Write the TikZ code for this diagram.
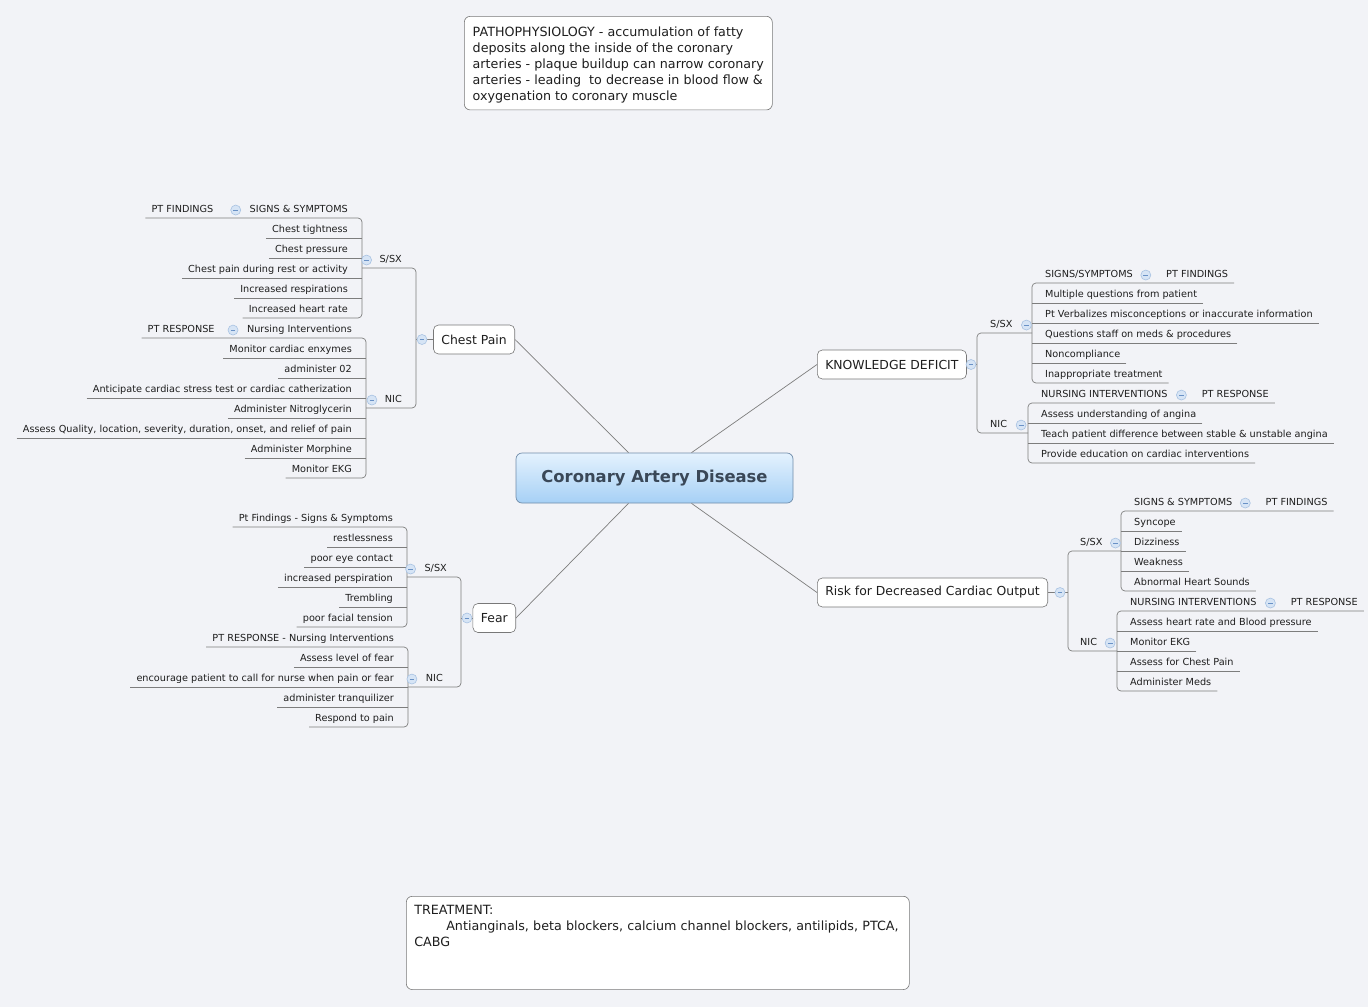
\documentclass[tikz,border=0pt]{standalone}
\usepackage{fontspec}
\setmainfont{DejaVu Sans}
\usetikzlibrary{positioning}
\definecolor{colBack}{RGB}{242,243,247}
\definecolor{colBranch}{RGB}{125,125,125}
\definecolor{colBox}{RGB}{120,120,120}
\definecolor{colText}{RGB}{30,30,30}
\definecolor{colCenterTop}{RGB}{228,242,254}
\definecolor{colCenterBot}{RGB}{166,208,245}
\definecolor{colCenterLine}{RGB}{112,140,170}
\definecolor{colCenterText}{RGB}{58,72,88}
\definecolor{colFold}{RGB}{214,228,245}
\definecolor{colFoldLine}{RGB}{168,194,226}
\definecolor{colFoldMinus}{RGB}{105,145,198}
\newcommand{\leaffont}{\fontsize{9.7}{11}\selectfont}
\newcommand{\notefont}{\fontsize{12.7}{16}\selectfont}

\begin{document}
\begin{tikzpicture}[x=1pt, y=-1pt,
    every node/.style={text=colText},
    branch/.style={draw=colBranch, line width=0.7pt, rounded corners=4pt},
    leaf/.style={font=\leaffont, inner xsep=6pt, inner ysep=3pt, text height=7pt, text depth=2.5pt},
    leafL/.style={leaf, anchor=south east},
    leafR/.style={leaf, anchor=south west},
    topic/.style={draw=colBox, fill=white, rounded corners=5pt, line width=0.6pt, font=\fontsize{12.4}{14}\selectfont, inner xsep=8pt, minimum height=29pt},
    central/.style={draw=colCenterLine, line width=0.7pt, rounded corners=6pt, top color=colCenterTop, bottom color=colCenterBot, minimum width=277pt, minimum height=50pt, font=\bfseries\fontsize{16.4}{18}\selectfont, text=colCenterText},
    note/.style={draw=colBox, fill=white, rounded corners=6pt, line width=0.6pt, anchor=north west, align=left, inner xsep=8pt, inner ysep=9pt, font=\notefont},
    fold/.style={circle, draw=colFoldLine, fill=colFold, minimum size=10pt, inner sep=0pt, line width=0.6pt,
        path picture={\draw[colFoldMinus, line width=0.8pt] ([xshift=2.6pt]path picture bounding box.west) -- ([xshift=-2.6pt]path picture bounding box.east);}}
]
    \fill[colBack] (0,0) rectangle (1368,1007);
    \useasboundingbox (0,0) rectangle (1368,1007);

    % central topic and the two notes
    \node[central] (cad) at (654.5,478) {Coronary Artery Disease};
    \node[note, minimum width=308pt, inner ysep=6.9pt] (patho) at (464,16) {\rule{0pt}{13.2pt}PATHOPHYSIOLOGY - accumulation of fatty\\deposits along the inside of the coronary\\arteries - plaque buildup can narrow coronary\\arteries - leading\ \ to decrease in blood flow \&\\oxygenation to coronary muscle};
    \node[note, text width=487pt, inner ysep=9pt] (treat) at (406,896) {TREATMENT:\\\hspace*{32pt}\mbox{Antianginals, beta blockers, calcium channel blockers, antilipids, PTCA,}\\CABG\rule[-34pt]{0pt}{34pt}};

    % ---- Chest Pain (left, top)
    \node[topic, anchor=east] (cp) at (515,339.5) {Chest Pain};
    \coordinate (cpJ) at (416,339.5);
    \coordinate (cpSj) at (362,268);
    \coordinate (cpNj) at (366,408);
    \node[leafL] (cpS) at (408,268) {S/SX};
    \node[leafL] (cpN) at (408,408) {NIC};

    \node[leafL] (cpS1) at (354,218) {SIGNS \& SYMPTOMS};
    \node[leafL, left=24pt of cpS1] (cpS1a) {PT FINDINGS};
    \node[leafL] (cpS2) at (354,238) {Chest tightness};
    \node[leafL] (cpS3) at (354,258) {Chest pressure};
    \node[leafL] (cpS4) at (354,278) {Chest pain during rest or activity};
    \node[leafL] (cpS5) at (354,298) {Increased respirations};
    \node[leafL] (cpS6) at (354,318) {Increased heart rate};

    \node[leafL] (cpN1) at (358,338) {Nursing Interventions};
    \node[leafL, left=20pt of cpN1] (cpN1a) {PT RESPONSE};
    \node[leafL] (cpN2) at (358,358) {Monitor cardiac enxymes};
    \node[leafL] (cpN3) at (358,378) {administer 02};
    \node[leafL] (cpN4) at (358,398) {Anticipate cardiac stress test or cardiac catherization};
    \node[leafL] (cpN5) at (358,418) {Administer Nitroglycerin};
    \node[leafL] (cpN6) at (358,438) {Assess Quality, location, severity, duration, onset, and relief of pain};
    \node[leafL] (cpN7) at (358,458) {Administer Morphine};
    \node[leafL] (cpN8) at (358,478) {Monitor EKG};

    \draw[branch] (cpSj) -| (cpJ) |- (cpNj);
    \draw[branch] (cpJ) -- (cp.west);
    \draw[branch] (cpS1a.south west) -| (cpSj) |- (cpS6.south west);
    \draw[branch] (cpS2.south west) -- (cpS2.south west -| cpSj)
        (cpS3.south west) -- (cpS3.south west -| cpSj)
        (cpS4.south west) -- (cpS4.south west -| cpSj)
        (cpS5.south west) -- (cpS5.south west -| cpSj);
    \draw[branch] (cpN1a.south west) -| (cpNj) |- (cpN8.south west);
    \draw[branch] (cpN2.south west) -- (cpN2.south west -| cpNj)
        (cpN3.south west) -- (cpN3.south west -| cpNj)
        (cpN4.south west) -- (cpN4.south west -| cpNj)
        (cpN5.south west) -- (cpN5.south west -| cpNj)
        (cpN6.south west) -- (cpN6.south west -| cpNj)
        (cpN7.south west) -- (cpN7.south west -| cpNj);

    % ---- Fear (left, bottom)
    \node[topic, anchor=east] (fear) at (516,618) {Fear};
    \coordinate (fJ) at (461,618);
    \coordinate (fSj) at (407,577);
    \coordinate (fNj) at (408,687);
    \node[leafL] (fS) at (453,577) {S/SX};
    \node[leafL] (fN) at (449,687) {NIC};

    \node[leafL] (fS1) at (399,527) {Pt Findings - Signs \& Symptoms};
    \node[leafL] (fS2) at (399,547) {restlessness};
    \node[leafL] (fS3) at (399,567) {poor eye contact};
    \node[leafL] (fS4) at (399,587) {increased perspiration};
    \node[leafL] (fS5) at (399,607) {Trembling};
    \node[leafL] (fS6) at (399,627) {poor facial tension};

    \node[leafL] (fN1) at (400,647) {PT RESPONSE - Nursing Interventions};
    \node[leafL] (fN2) at (400,667) {Assess level of fear};
    \node[leafL] (fN3) at (400,687) {encourage patient to call for nurse when pain or fear};
    \node[leafL] (fN4) at (400,707) {administer tranquilizer};
    \node[leafL] (fN5) at (400,727) {Respond to pain};

    \draw[branch] (fSj) -| (fJ) |- (fNj);
    \draw[branch] (fJ) -- (fear.west);
    \draw[branch] (fS1.south west) -| (fSj) |- (fS6.south west);
    \draw[branch] (fS2.south west) -- (fS2.south west -| fSj)
        (fS3.south west) -- (fS3.south west -| fSj)
        (fS4.south west) -- (fS4.south west -| fSj)
        (fS5.south west) -- (fS5.south west -| fSj);
    \draw[branch] (fN1.south west) -| (fNj) |- (fN5.south west);
    \draw[branch] (fN2.south west) -- (fN2.south west -| fNj)
        (fN3.south west) -- (fN3.south west -| fNj)
        (fN4.south west) -- (fN4.south west -| fNj);

    % ---- KNOWLEDGE DEFICIT (right, top)
    \node[topic, anchor=west] (kd) at (817,364.5) {KNOWLEDGE DEFICIT};
    \coordinate (kdJ) at (977,364.5);
    \coordinate (kdSj) at (1032,333);
    \coordinate (kdNj) at (1028,433);
    \node[leafR] (kdS) at (984,333) {S/SX};
    \node[leafR] (kdN) at (984,433) {NIC};

    \node[leafR] (kdS1) at (1039,283) {SIGNS/SYMPTOMS};
    \node[leafR, right=21pt of kdS1] (kdS1a) {PT FINDINGS};
    \node[leafR] (kdS2) at (1039,303) {Multiple questions from patient};
    \node[leafR] (kdS3) at (1039,323) {Pt Verbalizes misconceptions or inaccurate information};
    \node[leafR] (kdS4) at (1039,343) {Questions staff on meds \& procedures};
    \node[leafR] (kdS5) at (1039,363) {Noncompliance};
    \node[leafR] (kdS6) at (1039,383) {Inappropriate treatment};

    \node[leafR] (kdN1) at (1035,403) {NURSING INTERVENTIONS};
    \node[leafR, right=22pt of kdN1] (kdN1a) {PT RESPONSE};
    \node[leafR] (kdN2) at (1035,423) {Assess understanding of angina};
    \node[leafR] (kdN3) at (1035,443) {Teach patient difference between stable \& unstable angina};
    \node[leafR] (kdN4) at (1035,463) {Provide education on cardiac interventions};

    \draw[branch] (kdSj) -| (kdJ) |- (kdNj);
    \draw[branch] (kdJ) -- (kd.east);
    \draw[branch] (kdS1a.south east) -| (kdSj) |- (kdS6.south east);
    \draw[branch] (kdS2.south east) -- (kdS2.south east -| kdSj)
        (kdS3.south east) -- (kdS3.south east -| kdSj)
        (kdS4.south east) -- (kdS4.south east -| kdSj)
        (kdS5.south east) -- (kdS5.south east -| kdSj);
    \draw[branch] (kdN1a.south east) -| (kdNj) |- (kdN4.south east);
    \draw[branch] (kdN2.south east) -- (kdN2.south east -| kdNj)
        (kdN3.south east) -- (kdN3.south east -| kdNj);

    % ---- Risk for Decreased Cardiac Output (right, bottom)
    \node[topic, anchor=west] (risk) at (817,592.5) {Risk for Decreased Cardiac Output};
    \coordinate (rJ) at (1068,592.5);
    \coordinate (rSj) at (1121,551);
    \coordinate (rNj) at (1117,651);
    \node[leafR] (rS) at (1074,551) {S/SX};
    \node[leafR] (rN) at (1074,651) {NIC};

    \node[leafR] (rS1) at (1128,511) {SIGNS \& SYMPTOMS};
    \node[leafR, right=21pt of rS1] (rS1a) {PT FINDINGS};
    \node[leafR] (rS2) at (1128,531) {Syncope};
    \node[leafR] (rS3) at (1128,551) {Dizziness};
    \node[leafR] (rS4) at (1128,571) {Weakness};
    \node[leafR] (rS5) at (1128,591) {Abnormal Heart Sounds};

    \node[leafR] (rN1) at (1124,611) {NURSING INTERVENTIONS};
    \node[leafR, right=22pt of rN1] (rN1a) {PT RESPONSE};
    \node[leafR] (rN2) at (1124,631) {Assess heart rate and Blood pressure};
    \node[leafR] (rN3) at (1124,651) {Monitor EKG};
    \node[leafR] (rN4) at (1124,671) {Assess for Chest Pain};
    \node[leafR] (rN5) at (1124,691) {Administer Meds};

    \draw[branch] (rSj) -| (rJ) |- (rNj);
    \draw[branch] (rJ) -- (risk.east);
    \draw[branch] (rS1a.south east) -| (rSj) |- (rS5.south east);
    \draw[branch] (rS2.south east) -- (rS2.south east -| rSj)
        (rS3.south east) -- (rS3.south east -| rSj)
        (rS4.south east) -- (rS4.south east -| rSj);
    \draw[branch] (rN1a.south east) -| (rNj) |- (rN5.south east);
    \draw[branch] (rN2.south east) -- (rN2.south east -| rNj)
        (rN3.south east) -- (rN3.south east -| rNj)
        (rN4.south east) -- (rN4.south east -| rNj);

    % main branches to the central topic
    \draw[branch] (cp.east) -- ([xshift=-26pt]cad.north);
    \draw[branch] (fear.east) -- ([xshift=-26pt]cad.south);
    \draw[branch] (kd.west) -- ([xshift=37pt]cad.north);
    \draw[branch] (risk.west) -- ([xshift=37pt]cad.south);

    % collapse buttons
    \node[fold] (cpF) at (422,339.5) {};
    \node[fold, left=1.5pt of cpS] (cpSF) {};
    \node[fold, left=1.5pt of cpN] (cpNF) {};
    \node[fold, left=2.5pt of cpS1] (cpS1F) {};
    \node[fold, left=2.5pt of cpN1] (cpN1F) {};
    \node[fold] (fearF) at (467,618) {};
    \node[fold, left=2.5pt of fS] (fSF) {};
    \node[fold, left=2.5pt of fN] (fNF) {};
    \node[fold] (kdF) at (971,364.5) {};
    \node[fold, right=2.5pt of kdS] (kdSF) {};
    \node[fold, right=2.5pt of kdN] (kdNF) {};
    \node[fold, right=1.5pt of kdS1] (kdS1F) {};
    \node[fold, right=2.5pt of kdN1] (kdN1F) {};
    \node[fold] (riskF) at (1060,592.5) {};
    \node[fold, right=1.5pt of rS] (rSF) {};
    \node[fold, right=1.5pt of rN] (rNF) {};
    \node[fold, right=1.5pt of rS1] (rS1F) {};
    \node[fold, right=2.5pt of rN1] (rN1F) {};
\end{tikzpicture}
\end{document}
